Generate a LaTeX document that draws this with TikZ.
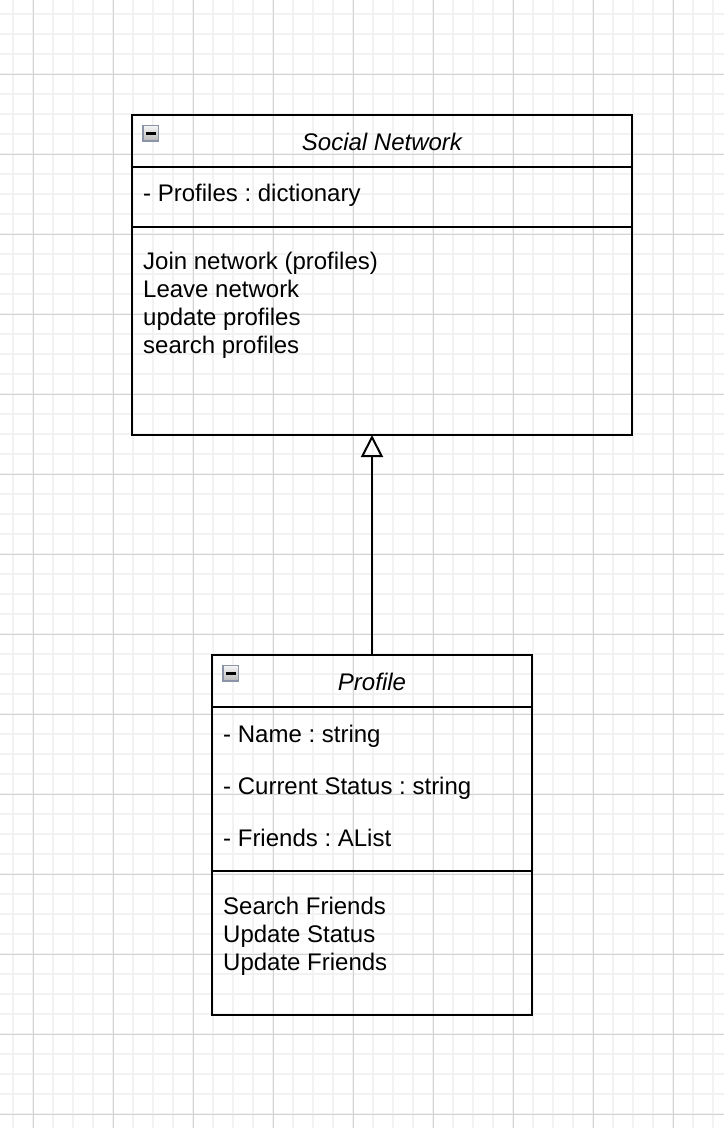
\documentclass[tikz,border=0pt]{standalone}
\usepackage{fontspec}
\setmainfont{Liberation Sans}
\usetikzlibrary{positioning}
\usetikzlibrary{arrows.meta}
\frenchspacing

\definecolor{gridminor}{HTML}{F2F2F2}
\definecolor{gridmajor}{HTML}{D3D3D3}
\definecolor{iconedge}{HTML}{8A93A8}

\begin{document}
\begin{tikzpicture}[x=1pt,y=-1pt,
  compart/.style={draw, line width=2pt, inner sep=0pt, outer sep=0pt, minimum width=#1},
  member/.style={anchor=base west, inner sep=0pt, font=\fontsize{24}{28}\selectfont},
  classname/.style={anchor=base, inner sep=0pt, font=\fontsize{24}{28}\selectfont\itshape},
  toggle/.style={draw=iconedge, line width=1.5pt, top color=white!94!gray, bottom color=gray!55, minimum size=15.5pt, inner sep=0pt},
  inherit/.style={line width=2pt, -{Triangle[open, length=22pt, width=22pt]}}]
\useasboundingbox (0,0) rectangle (724,1128);
\fill[white] (0,0) rectangle (724,1128);
% background grid
\foreach \x in {13,33,...,713} \draw[gridminor, line width=1.5pt] (\x,0) -- (\x,1128);
\foreach \y in {14,34,...,1114} \draw[gridminor, line width=1.5pt] (0,\y) -- (724,\y);
\foreach \x in {33,113,...,673} \draw[gridmajor, line width=1pt] (\x,0) -- (\x,1128);
\foreach \y in {74,154,...,1114} \draw[gridmajor, line width=1pt] (0,\y) -- (724,\y);

% Social Network class
\node[compart=500pt, minimum height=52pt, anchor=north west] (snHead) at (132,115) {};
\node[compart=500pt, minimum height=60pt, below=0pt of snHead] (snAttr) {};
\node[compart=500pt, minimum height=208pt, below=0pt of snAttr] (snOps) {};
\node[toggle] (snToggle) at ([xshift=18.5pt,yshift=-18pt]snHead.north west) {};
\draw[line width=3pt] ([xshift=3.5pt]snToggle.west) -- ([xshift=-3.5pt]snToggle.east);
\node[classname] (snName) at ([yshift=-9.5pt]snHead.center) {Social Network};
\node[member] (snProfiles) at ([xshift=11pt,yshift=-4pt]snAttr.west) {- Profiles : dictionary};
\node[member] (snJoin) at ([xshift=11pt,yshift=-42.5pt]snOps.north west) {Join network (profiles)};
\node[member] (snLeave) at ([yshift=-28pt]snJoin.base west) {Leave network};
\node[member] (snUpdate) at ([yshift=-28pt]snLeave.base west) {update profiles};
\node[member] (snSearch) at ([yshift=-28pt]snUpdate.base west) {search profiles};

% Profile class
\node[compart=320pt, minimum height=52pt, anchor=north west] (pfHead) at (212,655) {};
\node[compart=320pt, minimum height=164pt, below=0pt of pfHead] (pfAttr) {};
\node[compart=320pt, minimum height=144pt, below=0pt of pfAttr] (pfOps) {};
\node[toggle] (pfToggle) at ([xshift=18.5pt,yshift=-18pt]pfHead.north west) {};
\draw[line width=3pt] ([xshift=3.5pt]pfToggle.west) -- ([xshift=-3.5pt]pfToggle.east);
\node[classname] (pfName) at ([yshift=-9.5pt]pfHead.center) {Profile};
\node[member] (pfNameAttr) at ([xshift=11pt,yshift=-35pt]pfAttr.north west) {- Name : string};
\node[member] (pfStatus) at ([yshift=-52pt]pfNameAttr.base west) {- Current Status : string};
\node[member] (pfFriends) at ([yshift=-52pt]pfStatus.base west) {- Friends : AList};
\node[member] (pfSearch) at ([xshift=11pt,yshift=-43pt]pfOps.north west) {Search Friends};
\node[member] (pfUpdStatus) at ([yshift=-28pt]pfSearch.base west) {Update Status};
\node[member] (pfUpdFriends) at ([yshift=-28pt]pfUpdStatus.base west) {Update Friends};

% generalization
\draw[inherit] (pfHead.north) -- (pfHead.north |- snOps.south);
\end{tikzpicture}
\end{document}
